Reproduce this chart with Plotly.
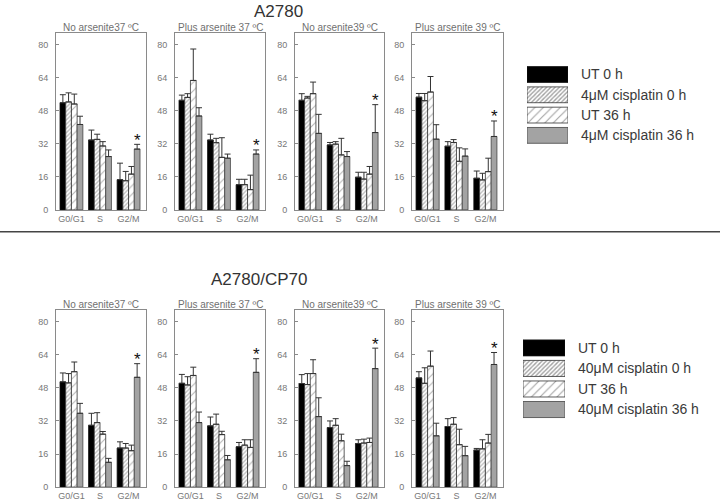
import plotly.graph_objects as go

W, H = 720, 504


def px_x(v):
    return v / W


def px_y(v):
    return 1 - v / H


categories = ["G0/G1", "S", "G2/M"]
series_top = ["UT 0 h", "4μM cisplatin 0 h", "UT 36 h", "4μM cisplatin 36 h"]
series_bot = ["UT 0 h", "40μM cisplatin 0 h", "UT 36 h", "40μM cisplatin 36 h"]
panel_titles = ["No arsenite37 ºC", "Plus arsenite 37 ºC", "No arsenite39 ºC", "Plus arsenite 39 ºC"]
row_titles = ["A2780", "A2780/CP70"]
y_ticks = [0, 16, 32, 48, 64, 80]

# ---- A2780 (top row): means per panel, per series, per category ----
a2780_no37 = [[51.8, 33.8, 14.6], [52.2, 34.1, 14.1], [51.2, 30.9, 17.3], [41.3, 25.8, 29.4]]
a2780_no37_err = [[3.9, 4.8, 8.0], [4.4, 2.5, 4.5], [4.8, 2.1, 3.7], [4.0, 3.2, 2.3]]
a2780_plus37 = [[53.0, 33.8, 12.2], [54.4, 32.5, 12.2], [62.6, 25.4, 9.8], [45.4, 25.0, 27.0]]
a2780_plus37_err = [[2.5, 2.8, 2.6], [1.8, 2.1, 2.6], [15.2, 9.5, 7.0], [4.0, 2.0, 2.0]]
a2780_no39 = [[53.0, 31.4, 15.8], [54.1, 31.8, 14.9], [56.2, 26.6, 17.3], [37.0, 25.8, 37.4]]
a2780_no39_err = [[3.2, 1.2, 2.4], [0.8, 1.2, 3.3], [5.6, 8.0, 3.7], [9.2, 2.4, 13.5]]
a2780_plus39 = [[54.5, 30.8, 15.3], [52.8, 32.6, 14.5], [57.0, 23.5, 18.5], [34.2, 26.0, 35.5]]
a2780_plus39_err = [[1.8, 2.2, 3.5], [3.5, 1.4, 3.2], [7.5, 6.5, 6.5], [7.0, 3.5, 7.5]]

# ---- A2780/CP70 (bottom row) ----
cp70_no37 = [[50.9, 29.9, 18.9], [50.4, 31.2, 18.9], [55.8, 25.6, 17.6], [35.7, 12.0, 53.1]]
cp70_no37_err = [[4.3, 5.8, 3.0], [4.5, 4.8, 2.2], [4.7, 1.3, 2.7], [4.8, 1.9, 6.6]]
cp70_plus37 = [[50.2, 29.6, 19.5], [49.4, 30.4, 20.3], [54.0, 25.4, 19.2], [31.2, 13.2, 55.5]]
cp70_plus37_err = [[4.3, 4.3, 2.1], [4.0, 4.9, 2.6], [4.0, 1.6, 3.7], [5.1, 2.1, 6.6]]
cp70_no39 = [[50.1, 28.8, 21.1], [49.6, 29.9, 21.3], [54.9, 22.4, 21.6], [34.1, 10.4, 57.3]]
cp70_no39_err = [[4.3, 3.2, 1.8], [5.3, 3.2, 1.9], [6.7, 3.2, 2.1], [9.1, 2.1, 9.9]]
cp70_plus39 = [[52.8, 29.3, 17.9], [50.2, 30.4, 18.5], [58.5, 20.5, 21.3], [24.8, 15.2, 59.3]]
cp70_plus39_err = [[3.0, 3.8, 0.8], [7.5, 3.2, 4.4], [7.3, 7.5, 4.2], [6.1, 4.5, 5.8]]

rows = [
    ([a2780_no37, a2780_plus37, a2780_no39, a2780_plus39],
     [a2780_no37_err, a2780_plus37_err, a2780_no39_err, a2780_plus39_err], series_top),
    ([cp70_no37, cp70_plus37, cp70_no39, cp70_plus39],
     [cp70_no37_err, cp70_plus37_err, cp70_no39_err, cp70_plus39_err], series_bot),
]

# ---- styling ----
fills = ["#000000", "#ffffff", "#ffffff", "#a3a3a3"]
pat_shapes = ["", "/", "/", ""]
pat_sizes = [8, 3, 6, 8]
pat_fg = ["#000000", "#7a7a7a", "#6a6a6a", "#000000"]
pat_solid = [0.3, 0.45, 0.18, 0.3]
line_cols = ["#111111", "#333333", "#333333", "#444444"]

x_px = [(56, 146), (175, 265), (295, 384), (412, 503)]
y_px = [(33, 212), (313, 492)]
x_range = [-0.54, 2.61]
y_range = [0, 85.7]
bargap = 0.2
bar_w = (1 - bargap) / 4
FONT = "Liberation Sans, Arial"

fig = go.Figure()
layout = {}
annotations = []

ax = 0
for r, (panels, errs, names) in enumerate(rows):
    for p in range(4):
        ax += 1
        xa = "x" if ax == 1 else f"x{ax}"
        ya = "y" if ax == 1 else f"y{ax}"
        for s in range(4):
            fig.add_trace(go.Bar(
                x=categories, y=panels[p][s], name=names[s],
                xaxis=xa, yaxis=ya, showlegend=False, offsetgroup=str(s),
                marker=dict(color=fills[s], line=dict(color=line_cols[s], width=0.8),
                            pattern=dict(shape=pat_shapes[s], size=pat_sizes[s],
                                         fgcolor=pat_fg[s], solidity=pat_solid[s], bgcolor=fills[s])),
                error_y=dict(type="data", array=errs[p][s], arrayminus=[0, 0, 0], symmetric=False,
                             color="#333333", thickness=1, width=3),
            ))
        x0, x1 = x_px[p]
        y0, y1 = y_px[r]
        layout["xaxis" if ax == 1 else f"xaxis{ax}"] = dict(
            domain=[px_x(x0), px_x(x1)], anchor=ya, type="category", range=x_range,
            showline=True, mirror=True, linecolor="#8a8a8a", linewidth=1,
            ticks="", showgrid=False, zeroline=False, ticklabelstandoff=0,
            tickfont=dict(family=FONT, size=9, color="#777777"))
        layout["yaxis" if ax == 1 else f"yaxis{ax}"] = dict(
            domain=[px_y(y1), px_y(y0)], anchor=xa, range=y_range, tickvals=y_ticks,
            ticks="inside", ticklen=3, tickcolor="#8a8a8a",
            showline=True, mirror=True, linecolor="#8a8a8a", linewidth=1,
            showgrid=False, zeroline=False, ticklabelstandoff=5,
            tickfont=dict(family=FONT, size=9, color="#777777"))
        # panel title
        annotations.append(dict(
            text=panel_titles[p], xref="paper", yref="paper", x=px_x((x0 + x1) / 2),
            y=px_y(y0), xanchor="center", yanchor="bottom", yshift=-2, showarrow=False,
            font=dict(family=FONT, size=10, color="#707070")))
        # significance star above the 36 h cisplatin G2/M bar
        top = panels[p][3][2] + errs[p][3][2]
        annotations.append(dict(
            text="*", xref=xa, yref=ya, x=2 + 1.5 * bar_w, y=top,
            xanchor="center", yanchor="middle", yshift=4, showarrow=False,
            font=dict(family=FONT, size=17, color="#111111")))

# ---- row titles ----
title_pos = [(278, 0, "top"), (259, 282, "middle")]
for t, (cx, cy, anc) in zip(row_titles, title_pos):
    annotations.append(dict(
        text=t, xref="paper", yref="paper", x=px_x(cx), y=px_y(cy),
        xanchor="center", yanchor=anc, showarrow=False,
        font=dict(family=FONT, size=17, color="#333333")))

# ---- legends as small bar subplots ----
leg_px = [((527, 568), (65, 147)), ((523, 565), (341, 424))]
for i, (names, ((lx0, lx1), (ly0, ly1))) in enumerate(zip([series_top, series_bot], leg_px)):
    n = 9 + i
    xa, ya = f"x{n}", f"y{n}"
    fig.add_trace(go.Bar(
        x=[1, 1, 1, 1], y=[0, 1, 2, 3], orientation="h", width=0.78,
        xaxis=xa, yaxis=ya, showlegend=False, hoverinfo="skip",
        marker=dict(color=fills, line=dict(color=line_cols, width=0.8),
                    pattern=dict(shape=pat_shapes, size=pat_sizes, fgcolor=pat_fg,
                                 solidity=pat_solid, bgcolor=fills)),
    ))
    layout[f"xaxis{n}"] = dict(domain=[px_x(lx0), px_x(lx1)], anchor=ya, range=[0, 1],
                               visible=False, fixedrange=True)
    layout[f"yaxis{n}"] = dict(domain=[px_y(ly1), px_y(ly0)], anchor=xa, side="right",
                               range=[3.5, -0.5], tickvals=[0, 1, 2, 3], ticktext=names,
                               ticks="", showline=False, showgrid=False, zeroline=False,
                               ticklabelstandoff=12,
                               tickfont=dict(family=FONT, size=14, color="#3a3a3a"))

fig.update_layout(
    width=W, height=H, margin=dict(l=0, r=0, t=0, b=0),
    paper_bgcolor="white", plot_bgcolor="white",
    barmode="group", bargap=bargap, bargroupgap=0,
    showlegend=False, annotations=annotations,
    shapes=[dict(type="line", xref="paper", yref="paper", x0=0, x1=1,
                 y0=px_y(234), y1=px_y(234), line=dict(color="#444444", width=1.5))],
    **layout,
)

# remove the browser's default 8px page margin so the 720x504 figure fills the window
fig.write_html("out.html", config={"displayModeBar": False},
               post_script="document.body.style.margin='0';")
